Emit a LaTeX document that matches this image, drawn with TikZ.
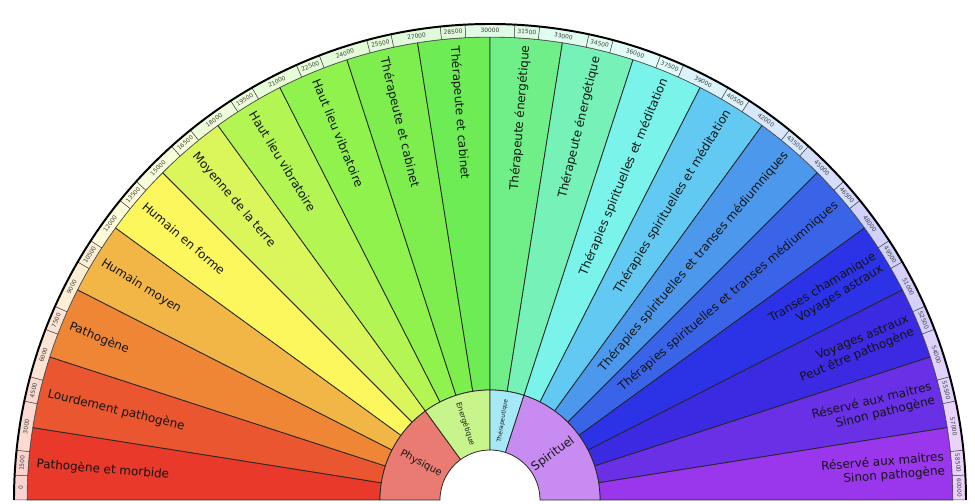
\documentclass[tikz,border=0pt]{standalone}
\usepackage{fontspec}
\setmainfont{DejaVu Sans}
\usepackage{xcolor}
\usetikzlibrary{
	calc    %计算
}
% couleurs des secteurs
\definecolor{c1}{HTML}{E8392B}
\definecolor{c2}{HTML}{EA562F}
\definecolor{c3}{HTML}{EE8636}
\definecolor{c4}{HTML}{F2B646}
\definecolor{c5}{HTML}{FBF75C}
\definecolor{c6}{HTML}{DAF65A}
\definecolor{c7}{HTML}{B3F552}
\definecolor{c8}{HTML}{90F24C}
\definecolor{c9}{HTML}{7DEE4E}
\definecolor{c10}{HTML}{6EEC56}
\definecolor{c11}{HTML}{70EE88}
\definecolor{c12}{HTML}{76F2B9}
\definecolor{c13}{HTML}{7AF3EA}
\definecolor{c14}{HTML}{62C9F2}
\definecolor{c15}{HTML}{4C98EC}
\definecolor{c16}{HTML}{3A64E8}
\definecolor{c17}{HTML}{2C32E6}
\definecolor{c18}{HTML}{3C2AE2}
\definecolor{c19}{HTML}{6930E6}
\definecolor{c20}{HTML}{9A36EC}
\definecolor{physique}{HTML}{E97B73}
\definecolor{energetique}{HTML}{C8F58B}
\definecolor{therapeutique}{HTML}{A6E8F6}
\definecolor{spirituel}{HTML}{C78BF2}
% morceau de couronne : angle debut, angle fin, rayon int., rayon ext.
\newcommand{\couronne}[4]{(#1:#3) arc[start angle=#1, end angle=#2, radius=#3] -- (#2:#4) arc[start angle=#2, end angle=#1, radius=#4] -- cycle}
\tikzset{
	secteur/.style={draw=black!85, line width=0.55pt},
	graduation/.style={draw=black!70, line width=0.35pt},
	bord/.style={draw=black, line width=1.4pt},
	etiquette/.style={font=\fontsize{8.5}{10}\selectfont, inner sep=0pt, text=black!92},
	chiffre/.style={font=\fontsize{4.2}{5}\selectfont, inner sep=0pt, text=black!75},
	domaine/.style={inner sep=0pt, text=black!90}
}

\begin{document}
\begin{tikzpicture}[x=0.025cm, y=0.025cm]
	\useasboundingbox (-490,-4) rectangle (485,500);
	\foreach \i/\txt in {1/Pathogène et morbide, 2/Lourdement pathogène, 3/Pathogène, 4/Humain moyen, 5/Humain en forme, 6/Moyenne de la terre, 7/Haut lieu vibratoire, 8/Haut lieu vibratoire, 9/Thérapeute et cabinet, 10/Thérapeute et cabinet, 11/Thérapeute énergétique, 12/Thérapeute énergétique, 13/Thérapies spirituelles et méditation, 14/Thérapies spirituelles et méditation, 15/Thérapies spirituelles et transes médiumniques, 16/Thérapies spirituelles et transes médiumniques, 17/Transes chamanique\\Voyages astraux, 18/Voyages astraux\\Peut être pathogène, 19/Réservé aux maitres\\Sinon pathogène, 20/Réservé aux maitres\\Sinon pathogène}{
		\pgfmathsetmacro\a{180-9*\i}
		\pgfmathsetmacro\b{\a+9}
		\pgfmathsetmacro\m{\a+4.5}
		\filldraw[secteur, fill=c\i] \couronne{\a}{\b}{110}{463};
		\ifnum\i<11
			\pgfmathsetmacro\r{\m-180}
			\node (lab\i) at (\m:455) [etiquette, anchor=west, rotate=\r] {\txt};
		\else
			\node (lab\i) at (\m:456) [etiquette, anchor=east, align=right, rotate=\m] {\txt};
		\fi
	}
	% graduation
	\foreach \k in {0,...,40}{
		\pgfmathsetmacro\c{180-4.5*\k}
		\pgfmathsetmacro\h{3-1.5*mod(\k,2)}
		\pgfmathsetmacro\d{max(\c-\h,0)}
		\pgfmathsetmacro\e{min(\c+\h,180)}
		\pgfmathsetmacro\g{(\d+\e)/2}
		\pgfmathsetmacro\r{\g-90}
		\pgfmathtruncatemacro\s{min(int(\k/2)+1,20)}
		\pgfmathtruncatemacro\v{15*\k}
		\filldraw[graduation, fill=c\s!22!white] \couronne{\d}{\e}{463}{476};
		\node (g\k) at (\g:469.5) [chiffre, rotate=\r] {\ifnum\k=0 0\else\v00\fi};
	}
	\draw[bord] (0:476) arc[start angle=0, end angle=180, radius=476];
	% domaines
	\filldraw[secteur, fill=physique] \couronne{126}{180}{50}{110};
	\filldraw[secteur, fill=energetique] \couronne{90}{126}{50}{110};
	\filldraw[secteur, fill=therapeutique] \couronne{72}{90}{50}{110};
	\filldraw[secteur, fill=spirituel] \couronne{0}{72}{50}{110};
	\node (physique) at (152:78) [domaine, rotate=-28, font=\fontsize{7.2}{8}\selectfont] {Physique};
	\node (energetique) at (108:80) [domaine, rotate=-72, font=\fontsize{5.3}{6}\selectfont] {Energétique};
	\node (therapeutique) at (81:80) [domaine, rotate=81, font=\fontsize{4.2}{5}\selectfont] {Thérapeutique};
	\node (spirituel) at (36:78) [domaine, rotate=36, font=\fontsize{8.5}{10}\selectfont] {Spirituel};
\end{tikzpicture}
\end{document}
